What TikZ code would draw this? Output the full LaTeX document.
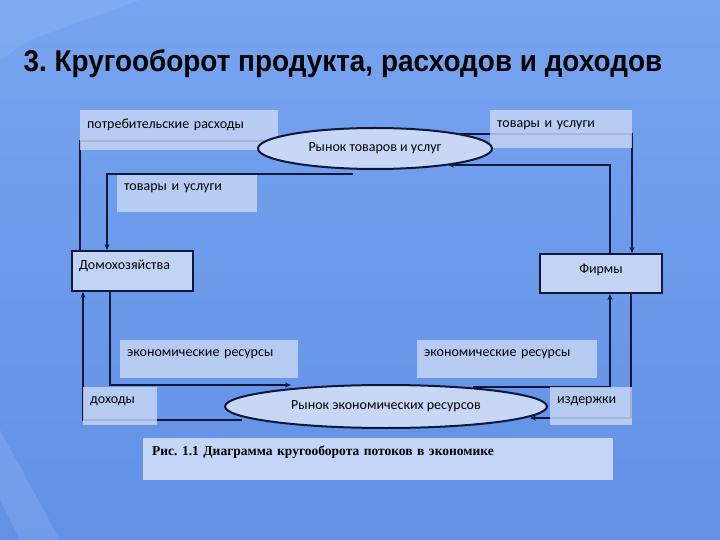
\documentclass[tikz,border=0pt]{standalone}
\usepackage{fontspec}
\setmainfont{Carlito}
\newfontfamily\titlefont[FakeStretch=0.93]{Liberation Sans}
\newfontfamily\capfont{Liberation Serif}
\usetikzlibrary{arrows.meta,shapes.geometric}
\pgfdeclarelayer{background}
\pgfdeclarelayer{flows}
\pgfsetlayers{background,flows,main}
\definecolor{slidetop}{RGB}{118,164,240}
\definecolor{slidebottom}{RGB}{98,145,230}
\definecolor{boxfill}{RGB}{200,215,245}
\definecolor{capfill}{RGB}{208,221,249}
\definecolor{linenavy}{RGB}{14,24,58}
\frenchspacing

\begin{document}
\begin{tikzpicture}[x=1pt,y=-1pt,labbox/.style={fill=boxfill,fill opacity=0.82,text opacity=1,anchor=north west,align=left,inner xsep=7pt,inner ysep=0pt,font=\fontsize{14}{16}\selectfont},agent/.style={labbox,fill opacity=0.95,draw=linenavy,draw opacity=1,line width=2pt},market/.style={ellipse,draw=linenavy,line width=2pt,fill=boxfill,inner sep=0pt,font=\fontsize{14}{16}\selectfont},flow/.style={-{Stealth[length=6pt,width=5pt]},line width=2pt,draw=linenavy}]
\begin{pgfonlayer}{background}
\fill[top color=slidetop,bottom color=slidebottom] (0,0) rectangle (720,540);
\fill[white,opacity=0.10] (0,430) -- (60,540) -- (20,540) -- (0,500) -- cycle;
\fill[white,opacity=0.08] (0,0) -- (140,0) -- (30,40) -- (0,60) -- cycle;
\end{pgfonlayer}
\useasboundingbox (0,0) rectangle (720,540);
\node[anchor=base west,font=\titlefont\bfseries\fontsize{30}{34}\selectfont] (title) at (20,72) {3. Кругооборот продукта, расходов и доходов};
\node[labbox,text width=184pt,text height=18pt,text depth=22pt] (spend) at (80,110) {потребительские расходы};
\node[labbox,text width=128pt,text height=17pt,text depth=21pt] (goodsR) at (490,110) {товары и услуги};
\node[labbox,text width=126pt,text height=15pt,text depth=22pt] (goodsL) at (117,175) {товары и услуги};
\node[agent,text width=107pt,text height=18pt,text depth=22pt] (hh) at (71,250) {Домохозяйства};
\node[agent,text width=108pt,align=center,text height=19pt,text depth=20pt] (firms) at (539,253) {Фирмы};
\node[labbox,text width=164pt,text height=16pt,text depth=22pt] (resL) at (120,340) {экономические ресурсы};
\node[labbox,text width=166pt,text height=16pt,text depth=22pt] (resR) at (417,340) {экономические ресурсы};
\node[labbox,text width=60pt,text height=16pt,text depth=22pt] (inc) at (83,387) {доходы};
\node[labbox,text width=68pt,text height=16pt,text depth=22pt] (cost) at (550,387) {издержки};
\node[market,minimum width=234pt,minimum height=41pt] (goodsmkt) at (375,148.5) {Рынок товаров и услуг};
\node[market,minimum width=322pt,minimum height=43pt] (resmkt) at (386,406.5) {Рынок экономических ресурсов};
\node[labbox,fill=capfill,fill opacity=0.9,text width=452pt,text height=17pt,text depth=25pt,inner xsep=9pt,font=\capfont\bfseries\fontsize{13.5}{15}\selectfont] (caption) at (143,438) {Рис. 1.1 Диаграмма кругооборота потоков в экономике};
\coordinate (sp1) at (80,141);
\coordinate (sp2) at (266,141);
\coordinate (sp3) at (458,134);
\coordinate (sp4) at (632,134);
\coordinate (gd1) at (610,165);
\coordinate (gd2) at (448,165);
\coordinate (gd3) at (353,174);
\coordinate (gd4) at (107,174);
\coordinate (rs1) at (110,385);
\coordinate (rs2) at (291,385);
\coordinate (rs3) at (473,387);
\coordinate (rs4) at (610,387);
\coordinate (ct1) at (631,418);
\coordinate (ct2) at (530,418);
\coordinate (in1) at (242,420);
\coordinate (in2) at (83,420);
\begin{pgfonlayer}{flows}
\draw[flow] (hh.north -| sp1) |- (sp2);
\draw[flow] (sp3) -| (firms.north -| sp4);
\draw[flow] (firms.north -| gd1) |- (gd2);
\draw[flow] (gd3) -| (hh.north -| gd4);
\draw[flow] (hh.south -| rs1) |- (rs2);
\draw[flow] (rs3) -| (firms.south -| rs4);
\draw[flow] (firms.south -| ct1) |- (ct2);
\draw[flow] (in1) -| (hh.south -| in2);
\end{pgfonlayer}
\end{tikzpicture}
\end{document}
